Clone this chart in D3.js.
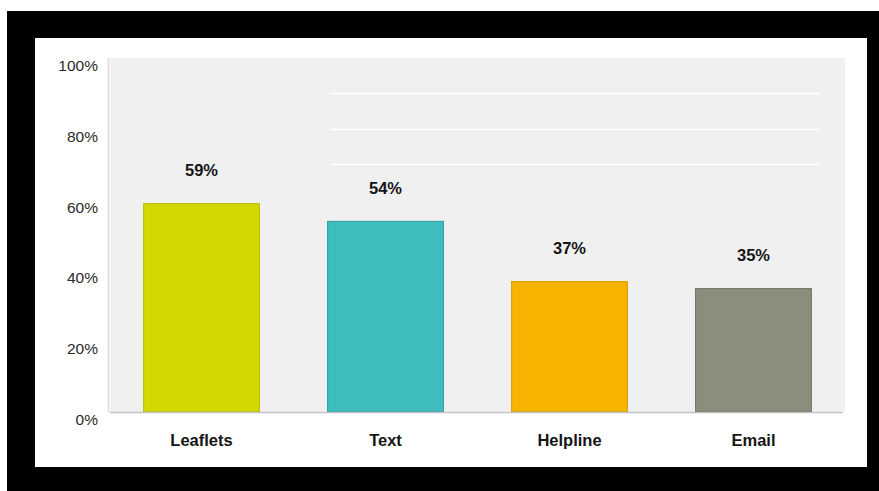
<!DOCTYPE html>
<html>
<head>
<meta charset="utf-8">
<script src="https://cdn.jsdelivr.net/npm/d3@7"></script>
<style>
  html, body { margin: 0; padding: 0; background: #fff; }
  svg { display: block; }
</style>
</head>
<body>
<svg id="chart" width="879" height="491"></svg>
<script>
// Share of respondents by channel
const categories = ["Leaflets", "Text", "Helpline", "Email"];
const values = [59, 54, 37, 35];
const barColors = ["#d2d800", "#3dbdbd", "#f6b300", "#8b8d7d"];
const barStrokes = ["#b9bd00", "#2e9ea0", "#d99c00", "#6f7163"];
const tickValues = [0, 20, 40, 60, 80, 100];
const gridValues = [70, 80, 90];

const svg = d3.select("#chart");
const W = 879, H = 491;

// outer frame: black border with white panel
svg.append("rect").attr("x", 0).attr("y", 0).attr("width", W).attr("height", H).attr("fill", "#fff");
svg.append("rect").attr("x", 7).attr("y", 11).attr("width", W - 7).attr("height", H - 11).attr("fill", "#000");
svg.append("rect").attr("x", 35).attr("y", 38).attr("width", 832).attr("height", 429).attr("fill", "#fff");

const plot = { left: 110, right: 845, top: 58, bottom: 412 };

const x = d3.scaleBand()
  .domain(categories)
  .range([plot.left, plot.right])
  .paddingInner(0.365)
  .paddingOuter(0.18);

const y = d3.scaleLinear()
  .domain([0, 100])
  .range([plot.bottom, plot.top]);

// plot background
svg.append("rect")
  .attr("x", plot.left).attr("y", plot.top)
  .attr("width", plot.right - plot.left).attr("height", plot.bottom - plot.top)
  .attr("fill", "#f0f0f0");

// faint white gridlines in the upper area
svg.append("g")
  .selectAll("line")
  .data(gridValues)
  .join("line")
  .attr("x1", x(categories[1]) + 3)
  .attr("x2", plot.right - 25)
  .attr("y1", d => Math.round(y(d)) + 0.5)
  .attr("y2", d => Math.round(y(d)) + 0.5)
  .attr("stroke", "#ffffff")
  .attr("stroke-width", 1.5);

// left edge of plot
svg.append("line")
  .attr("x1", plot.left - 1.5).attr("x2", plot.left - 1.5)
  .attr("y1", plot.top).attr("y2", plot.bottom)
  .attr("stroke", "#dcdcdc").attr("stroke-width", 1.5);

const font = "Liberation Sans, Arial, sans-serif";

// y axis labels
const yAxis = d3.axisLeft(y)
  .tickValues(tickValues)
  .tickFormat(d => d + "%")
  .tickSize(0)
  .tickPadding(12);

const yg = svg.append("g")
  .attr("transform", `translate(${plot.left},0)`)
  .call(yAxis);
yg.select(".domain").remove();
yg.selectAll("text")
  .attr("dy", "0.8em")
  .attr("font-family", font)
  .attr("font-size", 15.5)
  .attr("fill", "#2a2a2a");

// bars
svg.append("g")
  .selectAll("rect")
  .data(values)
  .join("rect")
  .attr("x", (d, i) => x(categories[i]) + 0.5)
  .attr("y", d => y(d) + 0.5)
  .attr("width", x.bandwidth() - 1)
  .attr("height", d => y(0) - y(d) - 1)
  .attr("fill", (d, i) => barColors[i])
  .attr("stroke", (d, i) => barStrokes[i])
  .attr("stroke-width", 1);

// baseline
svg.append("line")
  .attr("x1", plot.left).attr("x2", plot.right - 2)
  .attr("y1", plot.bottom + 0.5).attr("y2", plot.bottom + 0.5)
  .attr("stroke", "#c4c4c4").attr("stroke-width", 1.5);

// value labels
svg.append("g")
  .selectAll("text")
  .data(values)
  .join("text")
  .attr("x", (d, i) => x(categories[i]) + x.bandwidth() / 2)
  .attr("y", d => y(d) - 27)
  .attr("text-anchor", "middle")
  .attr("font-family", font)
  .attr("font-size", 16.5)
  .attr("font-weight", "bold")
  .attr("fill", "#151515")
  .text(d => d + "%");

// category labels
const xAxis = d3.axisBottom(x).tickSize(0).tickPadding(22);
const xg = svg.append("g")
  .attr("transform", `translate(0,${plot.bottom})`)
  .call(xAxis);
xg.select(".domain").remove();
xg.selectAll("text")
  .attr("font-family", font)
  .attr("font-size", 16.5)
  .attr("font-weight", "bold")
  .attr("fill", "#151515");
</script>
</body>
</html>
